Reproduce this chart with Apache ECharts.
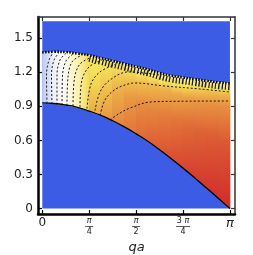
<!DOCTYPE html>
<html><head><meta charset="utf-8">
<script src="https://cdn.jsdelivr.net/npm/echarts@6/dist/echarts.min.js"></script>
<style>html,body{margin:0;padding:0;background:#fff}#c{width:253px;height:255px}</style>
</head><body><div id="c"></div>
<script>
// ---- data ----
const qa = [0,0.196,0.393,0.589,0.785,0.982,1.178,1.374,1.571,1.767,1.963,2.160,2.356,2.553,2.749,2.945,3.142];
const hLower = [0.93,0.925,0.912,0.892,0.859,0.82,0.773,0.719,0.658,0.592,0.517,0.438,0.356,0.27,0.181,0.091,0.0];
const hUpper = [1.375,1.38,1.378,1.365,1.35,1.325,1.30,1.275,1.25,1.225,1.195,1.17,1.155,1.14,1.125,1.112,1.103];
const hatchQa = [0.785,0.982,1.178,1.374,1.571,1.767,1.963,2.160,2.356,2.553,2.749,2.945,3.142];
const hatchH  = [1.318,1.292,1.266,1.241,1.216,1.191,1.161,1.136,1.121,1.106,1.091,1.078,1.069];
// colour level (0 = light blue, 0.1 = white, 0.4 = yellow, 0.7 = orange, 1 = red) at relative heights
const tLevels = [0,0.5,0.8,0.9,0.94,1.0];
const colourLevels = [
 [0.00,0.00,0.00,0.00,0.00,0.02],
 [0.09,0.09,0.09,0.09,0.09,0.09],
 [0.15,0.14,0.14,0.14,0.14,0.14],
 [0.28,0.25,0.24,0.24,0.24,0.24],
 [0.56,0.44,0.38,0.36,0.34,0.30],
 [0.62,0.48,0.42,0.40,0.36,0.30],
 [0.70,0.55,0.46,0.42,0.38,0.30],
 [0.75,0.62,0.50,0.44,0.40,0.28],
 [0.80,0.69,0.50,0.42,0.36,0.26],
 [0.84,0.71,0.53,0.42,0.36,0.26],
 [0.87,0.74,0.56,0.42,0.36,0.26],
 [0.90,0.77,0.58,0.42,0.36,0.26],
 [0.93,0.80,0.60,0.42,0.36,0.26],
 [0.95,0.83,0.64,0.48,0.40,0.26],
 [0.97,0.85,0.67,0.52,0.41,0.26],
 [0.99,0.87,0.69,0.55,0.42,0.26],
 [1.00,0.88,0.70,0.56,0.42,0.26]
];
const contours = [
 [[0.079,0.925],[0.070,1.176],[0.112,1.308],[0.179,1.370]],
 [[0.162,0.921],[0.154,1.176],[0.196,1.308],[0.279,1.370]],
 [[0.246,0.916],[0.246,1.176],[0.296,1.308],[0.397,1.366]],
 [[0.330,0.912],[0.338,1.167],[0.397,1.300],[0.514,1.361]],
 [[0.413,0.907],[0.430,1.159],[0.497,1.291],[0.648,1.348]],
 [[0.514,0.903],[0.539,1.150],[0.631,1.273],[0.815,1.330]],
 [[0.631,0.894],[0.664,1.132],[0.782,1.247],[0.999,1.308]],
 [[0.748,0.881],[0.815,1.097],[0.966,1.203],[1.217,1.269]],
 [[0.882,0.863],[0.966,1.026],[1.133,1.132],[1.434,1.203],[1.970,1.176]],
 [[0.966,0.822],[1.049,0.956],[1.183,1.035],[1.334,1.079],[1.551,1.106],[2.054,1.079],[2.640,1.053],[3.141,1.026]],
 [[1.133,0.780],[1.300,0.841],[1.468,0.885],[1.802,0.938],[2.304,0.945],[3.141,0.947]]
];
const blueQa = [0, 3.1416];
const blueH = [0, 1.65];
const xTickVals = [0, Math.PI/4, Math.PI/2, 3*Math.PI/4, Math.PI];
const xTickLabels = ['0','π/4','π/2','3 π/4','π'];
const yTickVals = [0,0.3,0.6,0.9,1.2,1.5];
const yTickLabels = ['0','0.3','0.6','0.9','1.2','1.5'];

// ---- colour scale ----
const cStops = [
 [0.00,'#bccaf0'],[0.08,'#eef0fa'],[0.14,'#fdfbf0'],[0.24,'#fbf3b8'],[0.30,'#f9f0a0'],
 [0.38,'#f6e760'],[0.45,'#f3d855'],[0.55,'#eeb44a'],[0.65,'#ea9a42'],[0.75,'#e5803c'],
 [0.85,'#de6034'],[0.95,'#d63c2e'],[1.00,'#d22c2a']];
function hex(c){return [parseInt(c.slice(1,3),16),parseInt(c.slice(3,5),16),parseInt(c.slice(5,7),16)];}
function cmap(v){
  v=Math.max(0,Math.min(1,v));
  for(let i=0;i<cStops.length-1;i++){
    const a=cStops[i],b=cStops[i+1];
    if(v<=b[0]){const f=(v-a[0])/(b[0]-a[0]);const A=hex(a[1]),B=hex(b[1]);
      return 'rgb('+A.map((x,j)=>Math.round(x+(B[j]-x)*f)).join(',')+')';}
  }
  return cStops[cStops.length-1][1];
}

const chart = echarts.init(document.getElementById('c'), null, {renderer:'canvas'});
const FONT = 'DejaVu Sans';
function xLabel(v){
  const i = xTickVals.findIndex(t=>Math.abs(t-v)<1e-6);
  if(i<0) return '';
  const s = xTickLabels[i];
  if(s.indexOf('/')<0){ return s==='π' ? '{bp|π}' : '{big|'+s+'}'; }
  const parts = s.split('/');
  const num = parts[0].replace('π','').trim();
  const top = num ? '{n|'+num+' }{np|π}' : '{np|π}';
  return top+'\n'+(num?'{bw| }':'{b| }')+'\n{d|'+parts[1]+'}';
}
const axisCommon = {type:'value', splitLine:{show:false}};
const option = {
  animation:false,
  backgroundColor:'#fff',
  grid:{left:38,right:18,top:17,bottom:41,containLabel:false,outerBoundsMode:'none'},
  xAxis:[
    Object.assign({},axisCommon,{position:'bottom',min:-0.072,max:3.226,
      axisLine:{show:true,onZero:false,lineStyle:{color:'#000',width:2.5}},
      axisTick:{show:true,inside:true,length:4,customValues:xTickVals,lineStyle:{color:'#000',width:1.2}},
      axisLabel:{show:true,customValues:xTickVals,margin:3,formatter:xLabel,color:'#222',fontFamily:FONT,
        rich:{
          big:{fontSize:12,fontFamily:FONT,color:'#222'},
          bp:{fontSize:13,fontFamily:FONT,fontStyle:'italic',color:'#222'},
          n:{fontSize:8,fontFamily:FONT,color:'#222',lineHeight:8},
          np:{fontSize:8,fontFamily:FONT,fontStyle:'italic',color:'#222',lineHeight:8},
          b:{width:8,height:0.8,backgroundColor:'#333',lineHeight:3},
          bw:{width:14,height:0.8,backgroundColor:'#333',lineHeight:3},
          d:{fontSize:8,fontFamily:FONT,color:'#222',lineHeight:8}
        }},
      name:'qa',nameLocation:'middle',nameGap:24,
      nameTextStyle:{fontFamily:FONT,fontStyle:'italic',fontSize:13,color:'#222'}}),
    Object.assign({},axisCommon,{position:'top',min:-0.072,max:3.226,
      axisLine:{show:true,onZero:false,lineStyle:{color:'#333',width:1.5}},
      axisTick:{show:true,inside:true,length:4,customValues:xTickVals,lineStyle:{color:'#333',width:1.2}},
      axisLabel:{show:false}})
  ],
  yAxis:[
    Object.assign({},axisCommon,{position:'left',min:-0.048,max:1.687,
      axisLine:{show:true,onZero:false,lineStyle:{color:'#000',width:2.5}},
      axisTick:{show:true,inside:true,length:4,customValues:yTickVals,lineStyle:{color:'#000',width:1.2}},
      axisLabel:{show:true,customValues:yTickVals,margin:5,fontSize:12,fontFamily:FONT,color:'#222',
        formatter:(v)=>{const i=yTickVals.findIndex(t=>Math.abs(t-v)<1e-6);return i<0?'':yTickLabels[i];}},
      name:'h',nameLocation:'middle',nameGap:25,nameRotate:90,
      nameTextStyle:{fontFamily:FONT,fontStyle:'italic',fontSize:13,color:'#222'}}),
    Object.assign({},axisCommon,{position:'right',min:-0.048,max:1.687,
      axisLine:{show:true,onZero:false,lineStyle:{color:'#333',width:1.5}},
      axisTick:{show:true,inside:true,length:4,customValues:yTickVals,lineStyle:{color:'#333',width:1.2}},
      axisLabel:{show:false}})
  ],
  series:[
    {type:'custom',silent:true,z:1,data:[[blueQa[0],blueH[0]]],
     renderItem:(p,api)=>{const a=api.coord([blueQa[0],blueH[1]]),b=api.coord([blueQa[1],blueH[0]]);
       return {type:'rect',shape:{x:a[0],y:a[1],width:b[0]-a[0],height:b[1]-a[1]},style:{fill:'#3c5ce6'}};}},
    {type:'custom',silent:true,z:2,data:qa.slice(0,qa.length-1).map((q,i)=>[q,hLower[i]]),
     renderItem:(p,api)=>{
       const k=p.dataIndex;
       const p0=api.coord([qa[k],hLower[k]]),p1=api.coord([qa[k+1],hLower[k+1]]),
             p2=api.coord([qa[k+1],hUpper[k+1]]),p3=api.coord([qa[k],hUpper[k]]);
       let fill;
       if(k<4){
         fill=new echarts.graphic.LinearGradient(p0[0],0,p1[0],0,
           [{offset:0,color:cmap(colourLevels[k][1])},{offset:1,color:cmap(colourLevels[k+1][1])}],true);
       } else {
         const yb=(p0[1]+p1[1])/2, yt=(p2[1]+p3[1])/2;
         fill=new echarts.graphic.LinearGradient(0,yb,0,yt,
           tLevels.map((t,j)=>({offset:t,color:cmap((colourLevels[k][j]+colourLevels[k+1][j])/2)})),true);
       }
       return {type:'polygon',shape:{points:[p0,p1,p2,p3]},style:{fill:fill,stroke:fill,lineWidth:0.8}};
     }},
    ...contours.map(c=>({type:'line',silent:true,z:3,data:c,showSymbol:false,smooth:0.35,
      lineStyle:{color:'#1a1a1a',width:1,type:[2,2]}})),
    {type:'line',silent:true,z:4,data:hatchQa.map((q,i)=>[q,hatchH[i]]),showSymbol:false,smooth:true,
      lineStyle:{color:'#1a1a1a',width:6,type:[1.3,2],cap:'butt'}},
    {type:'line',silent:true,z:5,data:qa.map((q,i)=>[q,hUpper[i]]),showSymbol:false,smooth:true,
      lineStyle:{color:'#000',width:2.5,type:[1.5,1.5]}},
    {type:'line',silent:true,z:5,data:qa.map((q,i)=>[q,hLower[i]]),showSymbol:false,smooth:true,
      lineStyle:{color:'#000',width:1.3}}
  ]
};
chart.setOption(option);
</script></body></html>
